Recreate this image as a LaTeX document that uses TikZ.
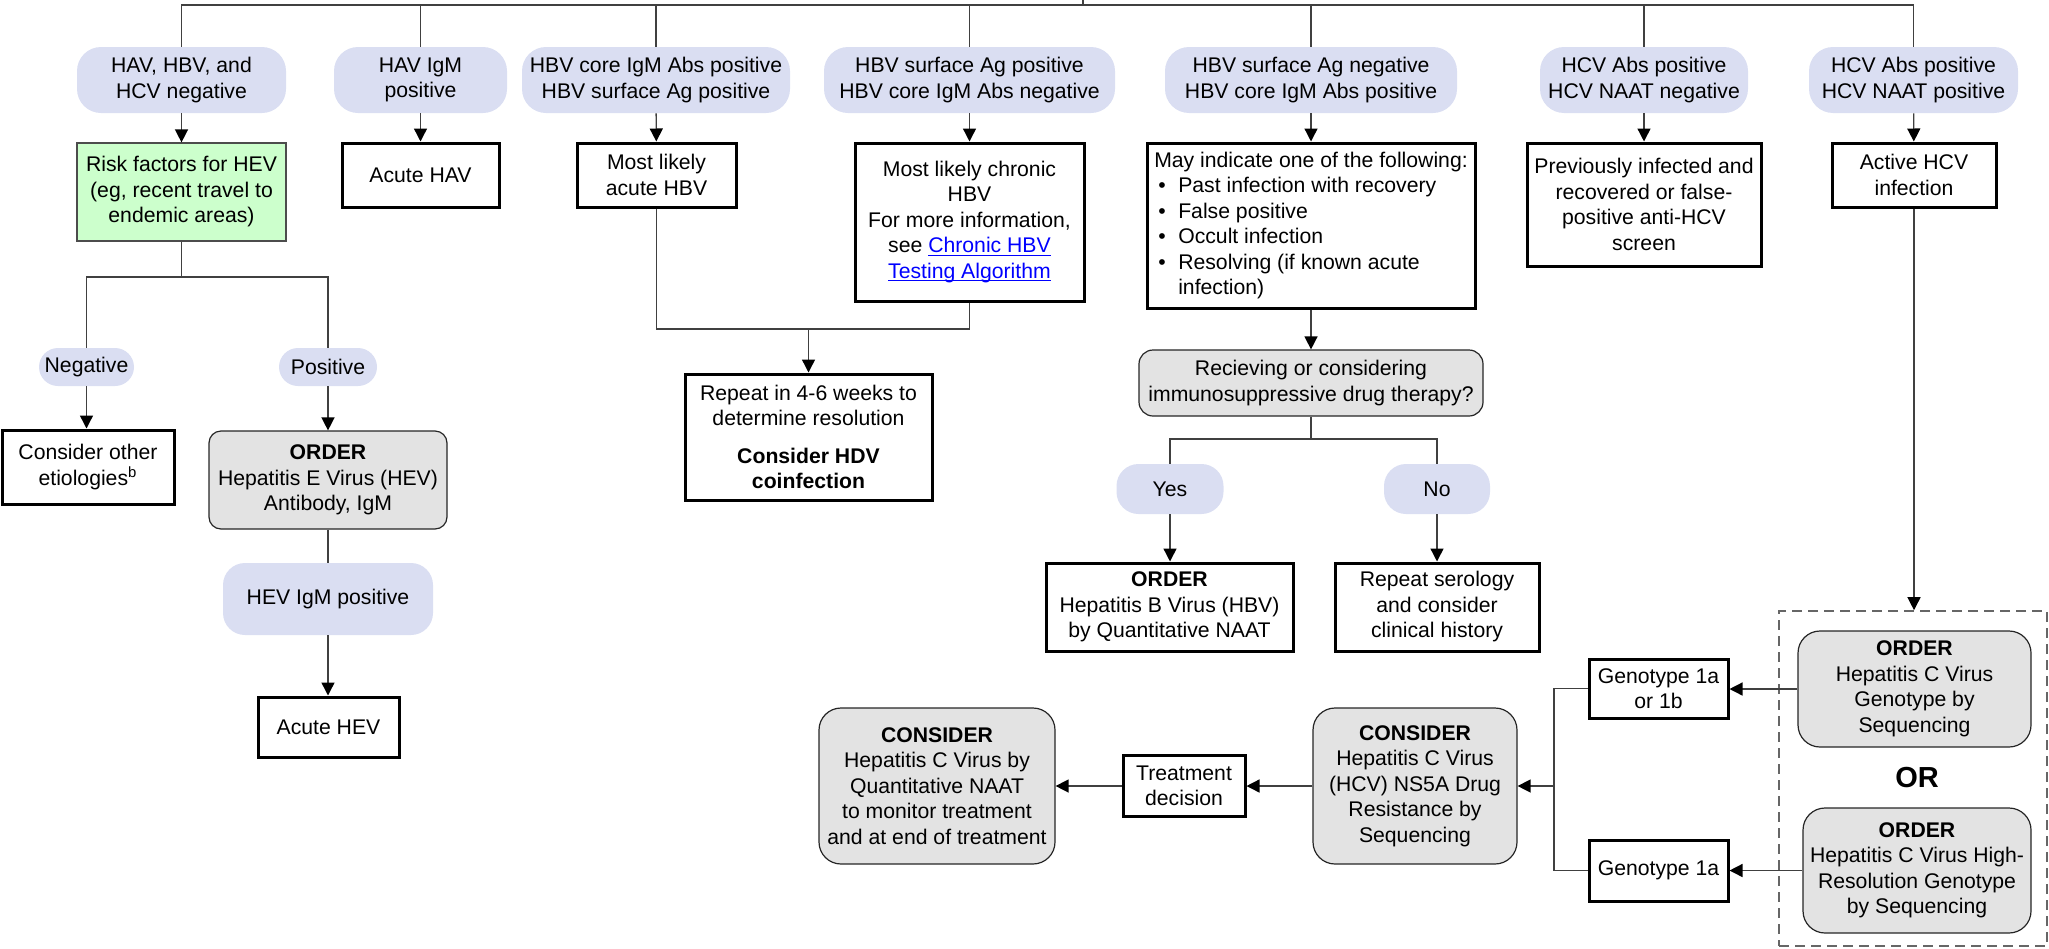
\documentclass[tikz,border=0pt]{standalone}
\usepackage{fontspec}
\setmainfont{Liberation Sans}
\usetikzlibrary{arrows.meta}
\definecolor{pillc}{HTML}{DADEF2}
\definecolor{greenc}{HTML}{CCFFCC}
\definecolor{grayc}{HTML}{E3E3E3}
\definecolor{linkc}{HTML}{0000FF}
\newcommand\lnktxt[1]{\textcolor{linkc}{\setbox0\hbox{#1}\rlap{\rule[-1.4pt]{\wd0}{0.6pt}}\box0}}
\begin{document}
\begin{tikzpicture}[x=0.5pt,y=-0.5pt,
 every node/.style={font=\fontsize{10.6}{12.75}\selectfont, align=center, inner sep=1pt},
 sz/.style 2 args={minimum width=#1*0.5pt, minimum height=#2*0.5pt},
 pill/.style={fill=pillc, rounded corners=#1},
 pill/.default=12pt,
 tbox/.style={draw=black, line width=1.5pt, fill=white},
 gbox/.style={draw=black!85, line width=0.6pt, fill=grayc, rounded corners=#1},
 gbox/.default=11pt,
 rbox/.style={draw=black!70, line width=0.6pt, fill=greenc},
 conn/.style={line width=0.7pt, draw=black!75},
 arr/.style={conn, -{Triangle[width=6.5pt,length=6.5pt,color=black]}},
 grpbox/.style={draw=black!60, dash pattern=on 5pt off 3pt, line width=0.8pt},
]
\useasboundingbox (0,0) rectangle (2049,948);

% top row pills
\node[pill, sz={209}{66}] (p1) at (181.5,80) {HAV, HBV, and\\HCV negative};
\node[pill, sz={173}{66}] (p2) at (420.5,80) {HAV IgM\\positive};
\node[pill, sz={268}{66}] (p3) at (656,80) {HBV core IgM Abs positive\\HBV surface Ag positive};
\node[pill, sz={291}{66}] (p4) at (969.5,80) {HBV surface Ag positive\\HBV core IgM Abs negative};
\node[pill, sz={292}{66}] (p5) at (1311,80) {HBV surface Ag negative\\HBV core IgM Abs positive};
\node[pill, sz={208}{66}] (p6) at (1644,80) {HCV Abs positive\\HCV NAAT negative};
\node[pill, sz={209}{66}] (p7) at (1913.5,80) {HCV Abs positive\\HCV NAAT positive};

% second row
\node[rbox, sz={209}{98}] (green) at (181.5,192) {Risk factors for HEV\\(eg, recent travel to\\endemic areas)};
\node[tbox, sz={157}{64}] (hav) at (420.5,175) {Acute HAV};
\node[tbox, sz={159}{64}] (hbv1) at (656.5,175) {Most likely\\acute HBV};
\node[tbox, sz={229}{158}] (chr) at (969.5,222) {Most likely chronic\\HBV\\For more information,\\see \lnktxt{Chronic HBV}\\\lnktxt{Testing Algorithm}};
\node[tbox, sz={328}{165}, align=left] (may) at (1311,225.5) {May indicate one of the following:\\
\hspace*{2pt}\makebox[10pt][l]{\textbullet}Past infection with recovery\\
\hspace*{2pt}\makebox[10pt][l]{\textbullet}False positive\\
\hspace*{2pt}\makebox[10pt][l]{\textbullet}Occult infection\\
\hspace*{2pt}\makebox[10pt][l]{\textbullet}Resolving (if known acute\\
\hspace*{12pt}infection)};
\node[tbox, sz={234}{123}] (prev) at (1644,204.5) {Previously infected and\\recovered or false-\\positive anti-HCV\\screen};
\node[tbox, sz={164}{64}] (act) at (1914,175) {Active HCV\\infection};

% HEV branch
\node[pill=9.5pt, sz={95}{38}] (neg) at (86.5,367) {Negative};
\node[pill=9.5pt, sz={98}{38}] (pos) at (328,367) {Positive};
\node[tbox, sz={172}{74}] (oth) at (88,467) {Consider other\\etiologies\textsuperscript{b}};
\node[gbox=6pt, sz={238}{98}] (ohev) at (328,480) {\textbf{ORDER}\\Hepatitis E Virus (HEV)\\Antibody, IgM};
\node[pill=11pt, sz={210}{72}] (hevp) at (328,599) {HEV IgM positive};
\node[tbox, sz={141}{60}] (ahev) at (328.5,727) {Acute HEV};

% HBV follow-up
\node[tbox, sz={247}{126}] (rep) at (808.5,437) {Repeat in 4-6 weeks to\\determine resolution\\[6pt]\textbf{Consider HDV}\\\textbf{coinfection}};
\node[gbox=7pt, sz={344}{66}] (recv) at (1311,383) {Recieving or considering\\immunosuppressive drug therapy?};
\node[pill=11pt, sz={107}{50}] (yes) at (1170,489) {Yes};
\node[pill=11pt, sz={106}{50}] (no) at (1437,489) {No};
\node[tbox, sz={247}{88}] (ohbv) at (1169.5,607) {\textbf{ORDER}\\Hepatitis B Virus (HBV)\\by Quantitative NAAT};
\node[tbox, sz={204}{88}] (rser) at (1437,607) {Repeat serology\\and consider\\clinical history};

% HCV branch
\node[grpbox, sz={268}{335}] (grp) at (1913,778.5) {};
\node[gbox, sz={233}{116}] (og) at (1914.5,689) {\textbf{ORDER}\\Hepatitis C Virus\\Genotype by\\Sequencing};
\node[font=\fontsize{14.5}{16}\selectfont\bfseries] (or) at (1917,778) {OR};
\node[gbox, sz={228}{125}] (ohr) at (1917,870.5) {\textbf{ORDER}\\Hepatitis C Virus High-\\Resolution Genotype\\by Sequencing};
\node[tbox, sz={139}{59}] (g1) at (1658.5,688.5) {Genotype 1a\\or 1b};
\node[tbox, sz={139}{61}] (g2) at (1658.5,870.5) {Genotype 1a};
\node[gbox, sz={204}{156}] (ns5a) at (1415,786) {\textbf{CONSIDER}\\Hepatitis C Virus\\(HCV) NS5A Drug\\Resistance by\\Sequencing};
\node[tbox, sz={122}{61}] (treat) at (1184,786) {Treatment\\decision};
\node[gbox, sz={236}{156}] (naat) at (937,786) {\textbf{CONSIDER}\\Hepatitis C Virus by\\Quantitative NAAT\\to monitor treatment\\and at end of treatment};

% connectors
\coordinate (top) at (1083,0);
\coordinate (bar) at (1083,5);
\draw[conn] (top) -- (bar);
\foreach \p in {p1,p2,p3,p4,p5,p6,p7} \draw[conn] (bar) -| (\p.north);

\draw[arr] (p1) -- (green);
\draw[arr] (p2) -- (hav);
\draw[arr] (p3) -- (hbv1);
\draw[arr] (p4) -- (chr);
\draw[arr] (p5) -- (may);
\draw[arr] (p6) -- (prev);
\draw[arr] (p7) -- (act);

\coordinate (gs) at (181.5,277);
\draw[conn] (green) -- (gs);
\draw[conn] (gs) -| (neg);
\draw[conn] (gs) -| (pos);
\draw[arr] (neg) -- (neg |- oth.north);
\draw[arr] (pos) -- (ohev);
\draw[conn] (ohev) -- (hevp);
\draw[arr] (hevp) -- (hevp |- ahev.north);

\coordinate (hj) at (808.5,329);
\draw[conn] (hbv1) |- (hj);
\draw[conn] (chr) |- (hj);
\draw[arr] (hj) -- (rep);

\draw[arr] (may) -- (recv);
\coordinate (rj) at (1311,439);
\draw[conn] (recv) -- (rj);
\draw[conn] (rj) -| (yes);
\draw[conn] (rj) -| (no);
\draw[arr] (yes) -- (yes |- ohbv.north);
\draw[arr] (no) -- (no |- rser.north);

\draw[arr] (act.south) -- (act.south |- grp.north);
\draw[arr] (og.west) -- (og.west -| g1.east);
\draw[arr] (ohr.west) -- (ohr.west -| g2.east);
\coordinate (gj) at (1554,786);
\draw[conn] (g1.west) -| (gj);
\draw[conn] (g2.west) -| (gj);
\draw[arr] (gj) -- (gj -| ns5a.east);
\draw[arr] (ns5a.west) -- (ns5a.west -| treat.east);
\draw[arr] (treat.west) -- (treat.west -| naat.east);
\end{tikzpicture}
\end{document}
